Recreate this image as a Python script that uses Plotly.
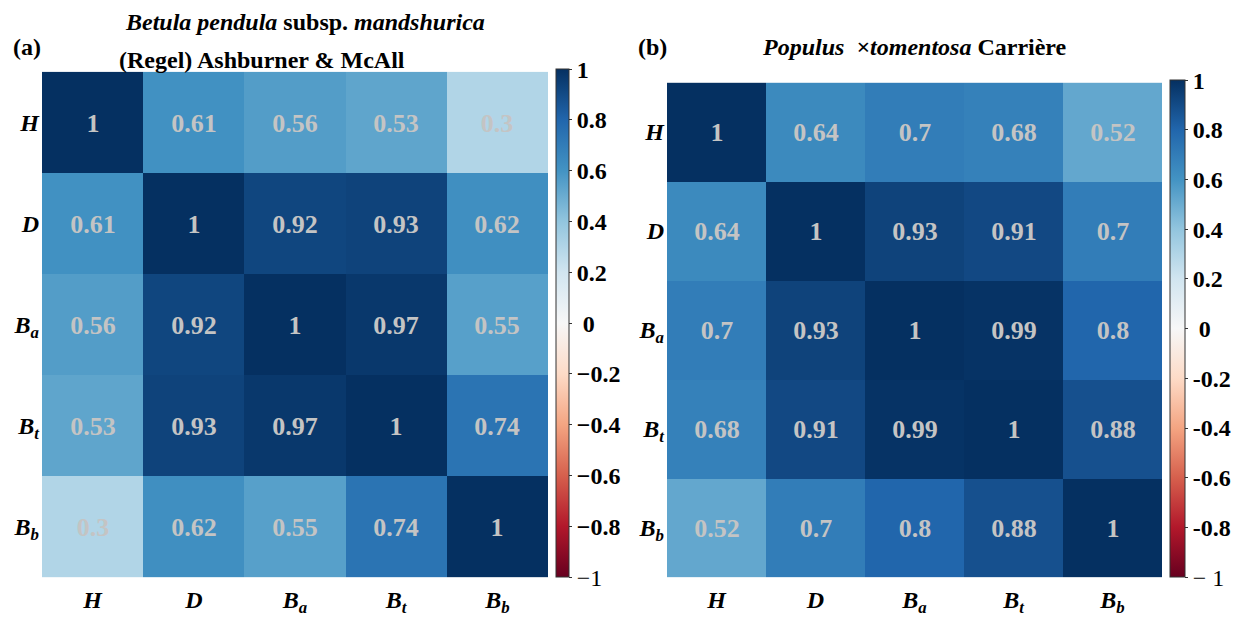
import plotly.graph_objects as go

W, H = 1244, 617

labels = ["<i>H</i>", "<i>D</i>", "<i>B<sub>a</sub></i>", "<i>B<sub>t</sub></i>", "<i>B<sub>b</sub></i>"]

corr_betula = [
    [1, 0.61, 0.56, 0.53, 0.3],
    [0.61, 1, 0.92, 0.93, 0.62],
    [0.56, 0.92, 1, 0.97, 0.55],
    [0.53, 0.93, 0.97, 1, 0.74],
    [0.3, 0.62, 0.55, 0.74, 1],
]

corr_populus = [
    [1, 0.64, 0.7, 0.68, 0.52],
    [0.64, 1, 0.93, 0.91, 0.7],
    [0.7, 0.93, 1, 0.99, 0.8],
    [0.68, 0.91, 0.99, 1, 0.88],
    [0.52, 0.7, 0.8, 0.88, 1],
]

cbar_ticks = [1, 0.8, 0.6, 0.4, 0.2, 0, -0.2, -0.4, -0.6, -0.8, -1]
cbar_text_a = ["<b>1</b>", "<b>0.8</b>", "<b>0.6</b>", "<b>0.4</b>", "<b>0.2</b>", "<b> 0</b>",
               "<b>−0.2</b>", "<b>−0.4</b>", "<b>−0.6</b>", "<b>−0.8</b>", "−1"]
cbar_text_b = ["<b>1</b>", "<b>0.8</b>", "<b>0.6</b>", "<b>0.4</b>", "<b>0.2</b>", "<b> 0</b>",
               "<b>-0.2</b>", "<b>-0.4</b>", "<b>-0.6</b>", "<b>-0.8</b>", "− 1"]

rdbu = ["rgb(103,0,31)", "rgb(178,24,43)", "rgb(214,96,77)", "rgb(244,165,130)",
        "rgb(253,219,199)", "rgb(247,247,247)", "rgb(209,229,240)", "rgb(146,197,222)",
        "rgb(67,147,195)", "rgb(33,102,172)", "rgb(5,48,97)"]
colorscale = [[i / 10, c] for i, c in enumerate(rdbu)]

FONT = "Liberation Serif, Times New Roman, serif"
TXT = "#c4c4c4"


def px_x(p):
    return p / W


def px_y(p):
    return 1 - p / H


fig = go.Figure()


def add_panel(z, xa, ya, cb_left, cb_top, cb_bottom, cb_thick, ticktext):
    fig.add_trace(go.Heatmap(
        z=z, x=labels, y=labels, xaxis=xa, yaxis=ya,
        zmin=-1, zmax=1, colorscale=colorscale,
        texttemplate="<b>%{z}</b>",
        textfont=dict(family=FONT, size=26, color=TXT),
        colorbar=dict(
            x=px_x(cb_left), xanchor="left", xref="paper",
            y=px_y(cb_bottom), yanchor="bottom",
            len=cb_bottom - cb_top, lenmode="pixels",
            thickness=cb_thick, thicknessmode="pixels",
            outlinewidth=1, outlinecolor="#333",
            tickvals=cbar_ticks, ticktext=ticktext,
            ticks="outside", ticklen=3, tickcolor="#333",
            tickfont=dict(family=FONT, size=24, color="black"),
            xpad=0, ypad=0,
        ),
    ))


add_panel(corr_betula, "x", "y", 556, 72, 580, 13, cbar_text_a)
add_panel(corr_populus, "x2", "y2", 1170, 83, 580, 15, cbar_text_b)

axis_font = dict(family=FONT, size=24, color="black")
common_x = dict(showgrid=False, zeroline=False, showline=False, ticks="",
                tickfont=axis_font, ticklabelstandoff=6, tickprefix="<b>", ticksuffix="</b>")
common_y = dict(showgrid=False, zeroline=False, showline=False, ticks="",
                tickfont=axis_font, autorange="reversed", ticklabelstandoff=2,
                tickprefix="<b>", ticksuffix="</b>")

fig.update_layout(
    width=W, height=H,
    margin=dict(l=0, r=0, t=0, b=0),
    paper_bgcolor="white", plot_bgcolor="white",
    xaxis=dict(domain=[px_x(42), px_x(548)], anchor="y", **common_x),
    yaxis=dict(domain=[px_y(580), px_y(72)], anchor="x", **common_y),
    xaxis2=dict(domain=[px_x(667), px_x(1162)], anchor="y2", **common_x),
    yaxis2=dict(domain=[px_y(580), px_y(83)], anchor="x2", **common_y),
    font=dict(family=FONT, color="black"),
)

title_font = dict(family=FONT, size=24, color="black")
annotations = [
    dict(text="<b>(a)</b>", x=px_x(11), y=px_y(47), xanchor="left"),
    dict(text="<b><i>Betula pendula</i> subsp. <i>mandshurica</i></b>", x=px_x(305), y=px_y(22),
         xanchor="center"),
    dict(text="<b>(Regel) Ashburner &amp; McAll</b>", x=px_x(262), y=px_y(60), xanchor="center"),
    dict(text="<b>(b)</b>", x=px_x(636), y=px_y(47), xanchor="left"),
    dict(text="<b><i>Populus  ×tomentosa</i> Carrière</b>", x=px_x(914), y=px_y(47),
         xanchor="center"),
]
for a in annotations:
    fig.add_annotation(xref="paper", yref="paper", showarrow=False,
                       yanchor="middle", font=title_font, **a)

fig.write_html("out.html")
